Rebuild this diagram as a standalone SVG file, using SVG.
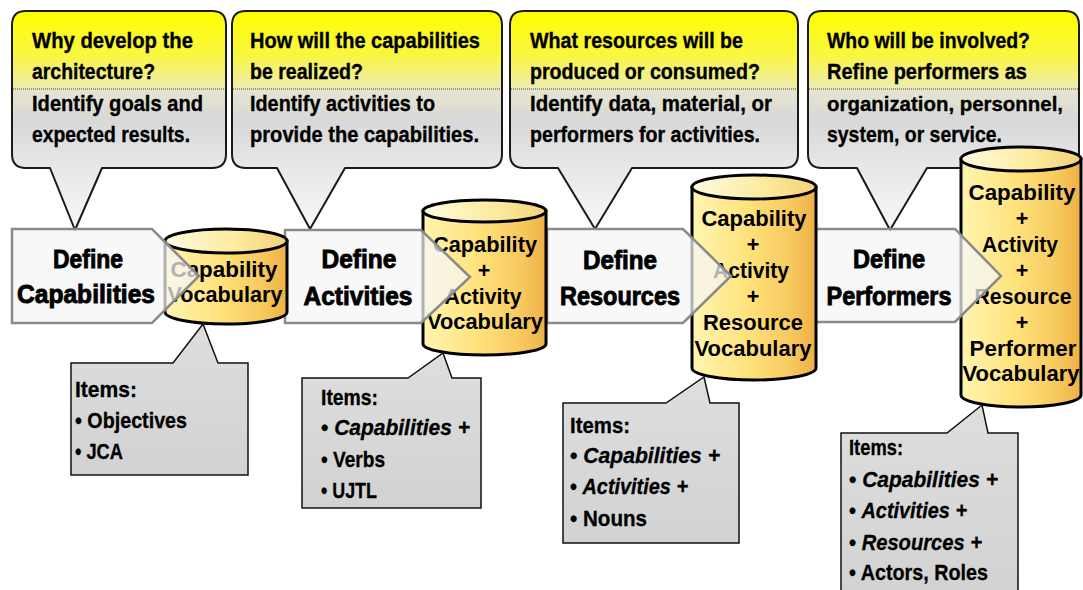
<svg xmlns="http://www.w3.org/2000/svg" width="1083" height="590" viewBox="0 0 1083 590">
<defs>
<linearGradient id="gTop" gradientUnits="userSpaceOnUse" x1="0" y1="11" x2="0" y2="230">
<stop offset="0" stop-color="#ffff00"/>
<stop offset="0.2" stop-color="#f9f640"/>
<stop offset="0.35" stop-color="#efecb0"/>
<stop offset="0.36" stop-color="#e6e5d0"/>
<stop offset="0.5" stop-color="#d8d8d8"/>
<stop offset="0.72" stop-color="#e8e8e8"/>
<stop offset="1" stop-color="#f8f8f8"/>
</linearGradient>
<linearGradient id="gCylBody" x1="0" y1="0" x2="1" y2="0">
<stop offset="0" stop-color="#fff5b0"/>
<stop offset="0.45" stop-color="#ffe27c"/>
<stop offset="0.8" stop-color="#f7c95e"/>
<stop offset="1" stop-color="#eeb045"/>
</linearGradient>
<linearGradient id="gCylTop" x1="0" y1="0" x2="1" y2="0">
<stop offset="0" stop-color="#fffbe0"/>
<stop offset="0.6" stop-color="#fcea9c"/>
<stop offset="1" stop-color="#f4d07a"/>
</linearGradient>
<linearGradient id="gBot" x1="0" y1="0" x2="0" y2="1">
<stop offset="0" stop-color="#dedede"/>
<stop offset="1" stop-color="#d2d2d2"/>
</linearGradient>
</defs>
<style>
.callout{fill:url(#gTop);stroke:#1a1a1a;stroke-width:2;stroke-linejoin:round}
.div{stroke:#444;stroke-width:1;stroke-dasharray:1 1}
.qt{font-family:"Liberation Sans Narrow","Liberation Sans",Arial,sans-serif;font-weight:bold;font-size:22px;fill:#000;stroke:#000;stroke-width:0.35}
.step{fill:#f5f5f5;fill-opacity:0.72;stroke:#8a8a8a;stroke-width:2.5;stroke-linejoin:miter}
.st{font-family:"Liberation Sans",Arial,sans-serif;font-weight:bold;font-size:26px;text-anchor:middle;fill:#000;stroke:#000;stroke-width:0.9}
.cylb{fill:url(#gCylBody);stroke:#000;stroke-width:3}
.cylt{fill:url(#gCylTop);stroke:#000;stroke-width:3}
.ct{font-family:"Liberation Sans",Arial,sans-serif;font-weight:bold;font-size:21.5px;text-anchor:middle;fill:#000}
.item{fill:url(#gBot);stroke:#111;stroke-width:1.5;stroke-linejoin:miter}
.it{font-family:"Liberation Sans Narrow","Liberation Sans",Arial,sans-serif;font-weight:bold;font-size:22px;fill:#000;stroke:#000;stroke-width:0.3}
.i{font-style:italic}
</style>

<g id="question-why">
<path class="callout" d="M26,11 H212 Q226,11 226,25 V154 Q226,168 212,168 H102 L75,230 L50,168 H26 Q12,168 12,154 V25 Q12,11 26,11 Z"/>
<line class="div" x1="13" y1="89" x2="225" y2="89"/>
<text class="qt" x="32" y="48" textLength="161" lengthAdjust="spacingAndGlyphs">Why develop the</text>
<text class="qt" x="32" y="79" textLength="123" lengthAdjust="spacingAndGlyphs">architecture?</text>
<text class="qt" x="32" y="111" textLength="171" lengthAdjust="spacingAndGlyphs">Identify goals and</text>
<text class="qt" x="32" y="142" textLength="158" lengthAdjust="spacingAndGlyphs">expected results.</text>
</g>

<g id="question-how">
<path class="callout" d="M246,11 H488 Q502,11 502,25 V154 Q502,168 488,168 H345 L310,229 L277,168 H246 Q232,168 232,154 V25 Q232,11 246,11 Z"/>
<line class="div" x1="233" y1="89" x2="501" y2="89"/>
<text class="qt" x="250" y="48" textLength="230" lengthAdjust="spacingAndGlyphs">How will the capabilities</text>
<text class="qt" x="250" y="79" textLength="113" lengthAdjust="spacingAndGlyphs">be realized?</text>
<text class="qt" x="250" y="111" textLength="185" lengthAdjust="spacingAndGlyphs">Identify activities to</text>
<text class="qt" x="250" y="142" textLength="229" lengthAdjust="spacingAndGlyphs">provide the capabilities.</text>
</g>

<g id="question-what">
<path class="callout" d="M524,11 H784 Q798,11 798,25 V154 Q798,168 784,168 H632 L595,229 L558,168 H524 Q510,168 510,154 V25 Q510,11 524,11 Z"/>
<line class="div" x1="511" y1="89" x2="797" y2="89"/>
<text class="qt" x="530" y="48" textLength="213" lengthAdjust="spacingAndGlyphs">What resources will be</text>
<text class="qt" x="530" y="79" textLength="230" lengthAdjust="spacingAndGlyphs">produced or consumed?</text>
<text class="qt" x="530" y="111" textLength="242" lengthAdjust="spacingAndGlyphs">Identify data, material, or</text>
<text class="qt" x="530" y="142" textLength="230" lengthAdjust="spacingAndGlyphs">performers for activities.</text>
</g>

<g id="question-who">
<path class="callout" d="M822,11 H1065 Q1079,11 1079,25 V154 Q1079,168 1065,168 H927 L890,230 L857,168 H822 Q808,168 808,154 V25 Q808,11 822,11 Z"/>
<line class="div" x1="809" y1="89" x2="1078" y2="89"/>
<text class="qt" x="827" y="48" textLength="203" lengthAdjust="spacingAndGlyphs">Who will be involved?</text>
<text class="qt" x="827" y="79" textLength="200" lengthAdjust="spacingAndGlyphs">Refine performers as</text>
<text class="qt" x="827" y="111" textLength="236" lengthAdjust="spacingAndGlyphs" style="font-size:21px">organization, personnel,</text>
<text class="qt" x="827" y="142" textLength="175" lengthAdjust="spacingAndGlyphs">system, or service.</text>
</g>

<g id="vocab-4">
<path class="cylb" d="M961,159 V395 A60,12 0 0 0 1081,395 V159 Z"/>
<ellipse class="cylt" cx="1021" cy="159" rx="60" ry="12"/>
<text class="ct" x="1022" y="200" textLength="107" lengthAdjust="spacingAndGlyphs">Capability</text>
<text class="ct" x="1022" y="226">+</text>
<text class="ct" x="1020" y="252" textLength="76" lengthAdjust="spacingAndGlyphs">Activity</text>
<text class="ct" x="1022" y="278">+</text>
<text class="ct" x="1023" y="304" textLength="97" lengthAdjust="spacingAndGlyphs">Resource</text>
<text class="ct" x="1022" y="330">+</text>
<text class="ct" x="1023" y="356" textLength="107" lengthAdjust="spacingAndGlyphs">Performer</text>
<text class="ct" x="1021" y="381" textLength="117" lengthAdjust="spacingAndGlyphs">Vocabulary</text>
</g>

<g id="define-performers">
<path class="step" d="M815,229 H955 L1001,276 L955,322 H815 Z"/>
<text class="st" x="889" y="268" textLength="72" lengthAdjust="spacingAndGlyphs">Define</text>
<text class="st" x="889" y="305" textLength="125" lengthAdjust="spacingAndGlyphs">Performers</text>
</g>

<g id="vocab-3">
<path class="cylb" d="M692,187 V368 A62,12 0 0 0 816,368 V187 Z"/>
<ellipse class="cylt" cx="754" cy="187" rx="62" ry="12"/>
<text class="ct" x="754" y="226" textLength="105" lengthAdjust="spacingAndGlyphs">Capability</text>
<text class="ct" x="753" y="252">+</text>
<text class="ct" x="751" y="278" textLength="76" lengthAdjust="spacingAndGlyphs">Activity</text>
<text class="ct" x="753" y="304">+</text>
<text class="ct" x="753" y="330" textLength="100" lengthAdjust="spacingAndGlyphs">Resource</text>
<text class="ct" x="753" y="356" textLength="117" lengthAdjust="spacingAndGlyphs">Vocabulary</text>
</g>

<g id="define-resources">
<path class="step" d="M547,229 H683 L731,276 L683,323 H547 Z"/>
<text class="st" x="620" y="269" textLength="74" lengthAdjust="spacingAndGlyphs">Define</text>
<text class="st" x="620" y="305" textLength="120" lengthAdjust="spacingAndGlyphs">Resources</text>
</g>

<g id="vocab-2">
<path class="cylb" d="M423,211 V344 A61.5,11 0 0 0 546,344 V211 Z"/>
<ellipse class="cylt" cx="484.5" cy="211" rx="61.5" ry="11"/>
<text class="ct" x="485" y="252" textLength="104" lengthAdjust="spacingAndGlyphs">Capability</text>
<text class="ct" x="484" y="278">+</text>
<text class="ct" x="483" y="304" textLength="77" lengthAdjust="spacingAndGlyphs">Activity</text>
<text class="ct" x="485" y="329" textLength="116" lengthAdjust="spacingAndGlyphs">Vocabulary</text>
</g>

<g id="define-activities">
<path class="step" d="M285,230 H421 L470,277 L421,323 H285 Z"/>
<text class="st" x="359" y="268" textLength="75" lengthAdjust="spacingAndGlyphs">Define</text>
<text class="st" x="358" y="305" textLength="109" lengthAdjust="spacingAndGlyphs">Activities</text>
</g>

<g id="vocab-1">
<path class="cylb" d="M165,241 V312 A61,12 0 0 0 287,312 V241 Z"/>
<ellipse class="cylt" cx="226" cy="241" rx="61" ry="12"/>
<text class="ct" x="224" y="277" textLength="107" lengthAdjust="spacingAndGlyphs">Capability</text>
<text class="ct" x="225" y="302" textLength="115" lengthAdjust="spacingAndGlyphs">Vocabulary</text>
</g>

<g id="define-capabilities">
<path class="step" d="M12,229 H152 L199,276 L152,323 H12 Z"/>
<text class="st" x="88" y="268" textLength="70" lengthAdjust="spacingAndGlyphs">Define</text>
<text class="st" x="86" y="303" textLength="138" lengthAdjust="spacingAndGlyphs">Capabilities</text>
</g>

<g id="items-1">
<path class="item" d="M71,363 H173 L203,324 L218,363 H248 V475 H71 Z"/>
<text class="it" x="75" y="397" textLength="62" lengthAdjust="spacingAndGlyphs">Items:</text>
<text class="it" x="75" y="428" textLength="112" lengthAdjust="spacingAndGlyphs">• Objectives</text>
<text class="it" x="75" y="459" textLength="48" lengthAdjust="spacingAndGlyphs">• JCA</text>
</g>

<g id="items-2">
<path class="item" d="M302,378 H408 L443,353 L452,378 H481 V508 H302 Z"/>
<text class="it" x="321" y="405" textLength="57" lengthAdjust="spacingAndGlyphs">Items:</text>
<text class="it" x="321" y="435" textLength="149" lengthAdjust="spacingAndGlyphs">• <tspan class="i">Capabilities +</tspan></text>
<text class="it" x="321" y="467" textLength="64" lengthAdjust="spacingAndGlyphs">• Verbs</text>
<text class="it" x="321" y="498" textLength="56" lengthAdjust="spacingAndGlyphs">• UJTL</text>
</g>

<g id="items-3">
<path class="item" d="M563,403 H666 L704,377 L710,403 H739 V543 H563 Z"/>
<text class="it" x="570" y="433" textLength="60" lengthAdjust="spacingAndGlyphs">Items:</text>
<text class="it" x="570" y="463" textLength="150" lengthAdjust="spacingAndGlyphs">• <tspan class="i">Capabilities +</tspan></text>
<text class="it" x="570" y="494" textLength="118" lengthAdjust="spacingAndGlyphs">• <tspan class="i">Activities +</tspan></text>
<text class="it" x="570" y="526" textLength="77" lengthAdjust="spacingAndGlyphs">• Nouns</text>
</g>

<g id="items-4">
<path class="item" d="M841,433 H947 L982,405 L988,433 H1018 V600 H841 Z"/>
<text class="it" x="849" y="455" textLength="54" lengthAdjust="spacingAndGlyphs">Items:</text>
<text class="it" x="849" y="487" textLength="149" lengthAdjust="spacingAndGlyphs">• <tspan class="i">Capabilities +</tspan></text>
<text class="it" x="849" y="518" textLength="118" lengthAdjust="spacingAndGlyphs">• <tspan class="i">Activities +</tspan></text>
<text class="it" x="849" y="550" textLength="133" lengthAdjust="spacingAndGlyphs">• <tspan class="i">Resources +</tspan></text>
<text class="it" x="849" y="580" textLength="139" lengthAdjust="spacingAndGlyphs">• Actors, Roles</text>
</g>

<g id="connectors"></g>
</svg>
